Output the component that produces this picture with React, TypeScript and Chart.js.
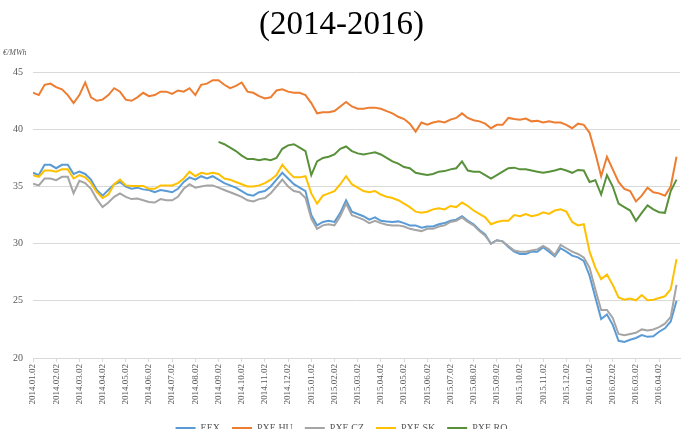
import React, { useEffect, useRef } from 'react';
import { Chart, registerables } from 'chart.js';

Chart.register(...registerables);

const monthLabels = [
  '2014.01.02', '2014.02.02', '2014.03.02', '2014.04.02', '2014.05.02', '2014.06.02', '2014.07.02',
  '2014.08.02', '2014.09.02', '2014.10.02', '2014.11.02', '2014.12.02', '2015.01.02', '2015.02.02',
  '2015.03.02', '2015.04.02', '2015.05.02', '2015.06.02', '2015.07.02', '2015.08.02', '2015.09.02',
  '2015.10.02', '2015.11.02', '2015.12.02', '2016.01.02', '2016.02.02', '2016.03.02', '2016.04.02',
];

const pointsPerMonth = 4;
const roStartIndex = 32;

const eex = [
  36.2, 36.0, 36.9, 36.9, 36.6, 36.9, 36.9, 36.1, 36.3, 36.1, 35.6, 34.7, 34.2, 34.7, 35.2, 35.4, 35.0, 34.8, 34.9, 34.75, 34.7, 34.5, 34.7,
  34.6, 34.5, 34.8, 35.4, 35.8, 35.6, 35.9, 35.7, 35.9, 35.6, 35.3, 35.1, 34.9, 34.6, 34.3, 34.2, 34.5, 34.6, 35.0, 35.6, 36.2, 35.7, 35.2,
  34.9, 34.6, 32.5, 31.6, 31.9, 32.0, 31.9, 32.7, 33.8, 32.8, 32.6, 32.4, 32.1, 32.3, 32.0, 31.95, 31.9, 31.95, 31.8, 31.6, 31.6, 31.4, 31.5,
  31.5, 31.7, 31.8, 32.0, 32.1, 32.4, 32.0, 31.7, 31.2, 30.8, 30.0, 30.3, 30.2, 29.7, 29.3, 29.1, 29.1, 29.3, 29.3, 29.7, 29.3, 28.9,
  29.6, 29.3, 28.95, 28.8, 28.5, 27.2, 25.3, 23.4, 23.8, 22.9, 21.5, 21.4, 21.6, 21.75, 22.0, 21.85, 21.9, 22.3, 22.6, 23.2, 25.0,
];

const pxeHu = [
  43.2, 43.0, 43.9, 44.0, 43.7, 43.5, 43.0, 42.3, 43.0, 44.1, 42.8, 42.5, 42.6, 43.0, 43.6, 43.3, 42.6, 42.5, 42.8, 43.2, 42.9, 43.0, 43.3,
  43.3, 43.1, 43.4, 43.3, 43.6, 43.0, 43.9, 44.0, 44.3, 44.3, 43.9, 43.6, 43.8, 44.1, 43.3, 43.2, 42.9, 42.7, 42.8, 43.4, 43.5, 43.3, 43.2,
  43.2, 43.0, 42.3, 41.4, 41.5, 41.5, 41.6, 42.0, 42.4, 42.0, 41.8, 41.8, 41.9, 41.9, 41.8, 41.6, 41.4, 41.1, 40.9, 40.5, 39.8, 40.6, 40.4,
  40.6, 40.7, 40.6, 40.85, 41.0, 41.4, 41.0, 40.8, 40.7, 40.5, 40.1, 40.4, 40.4, 41.0, 40.9, 40.85, 40.95, 40.7, 40.75, 40.6, 40.7, 40.6,
  40.6, 40.4, 40.1, 40.5, 40.4, 39.7, 37.9, 35.9, 37.6, 36.5, 35.4, 34.8, 34.6, 33.7, 34.2, 34.9, 34.5, 34.4, 34.2, 35.0, 37.6,
];

const pxeCz = [
  35.25, 35.1, 35.7, 35.7, 35.55, 35.85, 35.85, 34.4, 35.5, 35.3, 34.8, 33.9, 33.2, 33.6, 34.1, 34.4, 34.1, 33.9, 33.95, 33.8, 33.65, 33.6, 33.9,
  33.8, 33.8, 34.1, 34.8, 35.2, 34.9, 35.0, 35.1, 35.1, 34.9, 34.7, 34.5, 34.3, 34.1, 33.8, 33.7, 33.9, 34.0, 34.4, 35.0, 35.6, 35.0, 34.6,
  34.5, 34.0, 32.2, 31.3, 31.6, 31.7, 31.6, 32.4, 33.5, 32.5, 32.3, 32.1, 31.8, 32.0, 31.8, 31.65, 31.6, 31.6, 31.5, 31.3, 31.2, 31.1, 31.3,
  31.3, 31.5, 31.6, 31.9, 32.0, 32.3, 31.9, 31.6, 31.1, 30.7, 30.0, 30.3, 30.2, 29.8, 29.4, 29.3, 29.3, 29.4, 29.5, 29.8, 29.5, 29.0,
  29.9, 29.6, 29.3, 29.1, 28.8, 27.9, 26.0, 24.2, 24.2, 23.5, 22.1, 22.0, 22.1, 22.2, 22.5, 22.4, 22.5, 22.7, 23.0, 23.6, 26.4,
];

const pxeSk = [
  36.0, 35.85, 36.4, 36.4, 36.3, 36.5, 36.5, 35.7, 36.0, 35.8, 35.3, 34.5, 34.0, 34.3, 35.2, 35.6, 35.1, 35.05, 35.05, 35.05, 34.8, 34.8, 35.1,
  35.1, 35.1, 35.3, 35.7, 36.3, 35.9, 36.2, 36.1, 36.2, 36.1, 35.7, 35.6, 35.4, 35.2, 35.0, 35.0, 35.1, 35.3, 35.6, 36.0, 36.9, 36.3, 35.8,
  35.8, 35.9, 34.4, 33.5, 34.2, 34.4, 34.6, 35.2, 35.9, 35.2, 34.9, 34.6, 34.5, 34.6, 34.3, 34.1, 34.0, 33.8, 33.5, 33.2, 32.8, 32.7, 32.8,
  33.0, 33.1, 33.0, 33.3, 33.2, 33.6, 33.3, 32.9, 32.6, 32.3, 31.7, 31.9, 32.0, 32.0, 32.5, 32.4, 32.6, 32.4, 32.5, 32.75, 32.6, 32.9,
  33.0, 32.8, 31.9, 31.6, 31.7, 29.3, 27.9, 26.9, 27.3, 26.4, 25.3, 25.1, 25.2, 25.05, 25.5, 25.05, 25.1, 25.25, 25.4, 26.0, 28.65,
];

const pxeRo = [
  38.9, 38.7, 38.4, 38.1, 37.7, 37.4, 37.4, 37.3, 37.4, 37.3, 37.5, 38.3, 38.6, 38.7,
  38.4, 38.1, 36.0, 37.2, 37.5, 37.6, 37.8, 38.3, 38.5, 38.1, 37.9, 37.8, 37.9, 38.0, 37.8, 37.5, 37.2, 37.0, 36.7, 36.6, 36.2, 36.1, 36.0,
  36.1, 36.3, 36.35, 36.5, 36.6, 37.2, 36.4, 36.3, 36.3, 36.0, 35.7, 36.0, 36.3, 36.6, 36.65, 36.5, 36.5, 36.4, 36.3, 36.2, 36.3, 36.4,
  36.55, 36.4, 36.2, 36.45, 36.4, 35.4, 35.55, 34.3, 36.0, 35.0, 33.5, 33.2, 32.9, 32.0, 32.7, 33.35, 33.0, 32.75, 32.7, 34.6, 35.6,
];

const seriesNames = ['EEX', 'PXE HU', 'PXE CZ', 'PXE SK', 'PXE RO'];
const seriesColors = ['#5B9BD5', '#ED7D31', '#A5A5A5', '#FFC000', '#58913A'];

const serif = '"Liberation Serif", "Times New Roman", serif';

export default function App() {
  const ref = useRef<HTMLCanvasElement>(null);

  useEffect(() => {
    if (!ref.current) return;
    const toXY = (arr: number[], start: number) =>
      arr.map((v, i) => ({ x: (start + i) / pointsPerMonth, y: v }));
    const all = [
      toXY(eex, 0),
      toXY(pxeHu, 0),
      toXY(pxeCz, 0),
      toXY(pxeSk, 0),
      toXY(pxeRo, roStartIndex),
    ];
    const chart = new Chart(ref.current, {
      type: 'line',
      data: {
        datasets: all.map((d, i) => ({
          label: seriesNames[i],
          data: d,
          borderColor: seriesColors[i],
          backgroundColor: seriesColors[i],
          borderWidth: 2,
          pointRadius: 0,
          tension: 0,
          order: 5 - i,
        })),
      },
      options: {
        responsive: false,
        animation: false,
        layout: { padding: { left: 3, right: 10, top: 0, bottom: 0 } },
        plugins: {
          title: {
            display: true,
            text: '(2014-2016)',
            color: '#000',
            font: { family: serif, size: 33, weight: 'normal' },
            padding: { top: 6, bottom: 0 },
          },
          subtitle: {
            display: true,
            text: '€/MWh',
            align: 'start',
            color: '#595959',
            font: { family: serif, size: 8, style: 'italic' },
            padding: { top: 2, bottom: 15 },
          },
          legend: {
            position: 'bottom',
            labels: {
              usePointStyle: true,
              pointStyle: 'line',
              pointStyleWidth: 20,
              color: '#595959',
              font: { family: serif, size: 10 },
              padding: 12,
              sort: (a: any, b: any) => a.datasetIndex - b.datasetIndex,
            },
          },
          tooltip: { enabled: false },
        },
        scales: {
          x: {
            type: 'linear',
            min: 0,
            max: 27.9,
            afterFit: (scale: any) => {
              scale.height = 53;
            },
            ticks: {
              stepSize: 1,
              autoSkip: false,
              includeBounds: false,
              maxRotation: 90,
              minRotation: 90,
              padding: 2,
              color: '#595959',
              font: { family: serif, size: 9 },
              callback: (v: any) => monthLabels[v] ?? '',
            },
            grid: { drawOnChartArea: false, drawTicks: true, tickLength: 4, color: '#d9d9d9' },
            border: { color: '#d9d9d9' },
          },
          y: {
            min: 20,
            max: 45,
            afterFit: (scale: any) => {
              scale.width = 30;
            },
            ticks: {
              stepSize: 5,
              padding: 10,
              color: '#595959',
              font: { family: serif, size: 10 },
            },
            grid: { color: '#d9d9d9', drawTicks: false },
            border: { display: false },
          },
        },
      },
    } as any);
    return () => chart.destroy();
  }, []);

  return (
    <div
      style={{
        position: 'fixed',
        left: 0,
        top: 0,
        width: 690,
        height: 429,
        overflow: 'hidden',
        background: '#fff',
      }}
    >
      <canvas ref={ref} width={690} height={443} style={{ display: 'block' }} />
    </div>
  );
}
